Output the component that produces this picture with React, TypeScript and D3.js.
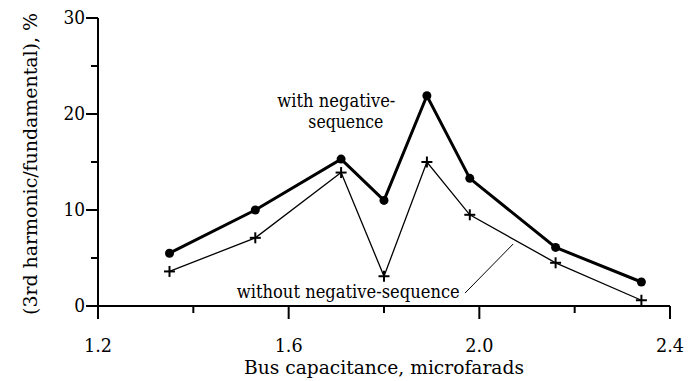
import * as d3 from 'd3';

// Bus capacitance (microfarads)
const capacitance = [1.35, 1.53, 1.71, 1.80, 1.89, 1.98, 2.16, 2.34];
// 3rd harmonic / fundamental, %
const withNegSeq = [5.5, 10.0, 15.3, 11.0, 21.9, 13.3, 6.1, 2.5];
const withoutNegSeq = [3.6, 7.1, 13.9, 3.1, 15.0, 9.5, 4.5, 0.6];

const xMajor = [1.2, 1.6, 2.0, 2.4];
const xMinor = [1.4, 1.8, 2.2];
const yMajor = [0, 10, 20, 30];
const yMinor = [5, 15, 25];

const W = 697;
const H = 381;
// Liberation Serif does not resolve here, DejaVu Serif does; squeeze it to Times widths
const font = 'DejaVu Serif';
const fit = 'spacingAndGlyphs';

export default function App() {
    const x = d3.scaleLinear().domain([1.2, 2.4]).range([98, 670]);
    const y = d3.scaleLinear().domain([0, 30]).range([306, 18]);

    const line = d3
        .line<number>()
        .x((_, i) => x(capacitance[i]))
        .y((d) => y(d));

    const x0 = x(1.2);
    const y0 = y(0);

    return (
        <svg width={W} height={H} style={{ position: 'absolute', left: 0, top: 0, background: '#fff' }}>
            {/* axes */}
            <g stroke="#000" strokeWidth={2} fill="none">
                <line x1={x0} x2={x0} y1={y(30)} y2={y0 + 13} />
                <line x1={x0 - 12} x2={x(2.4)} y1={y0} y2={y0} />
                {yMajor.map((v) => (
                    <line key={'ym' + v} x1={x0 - 12} x2={x0} y1={y(v)} y2={y(v)} />
                ))}
                {yMinor.map((v) => (
                    <line key={'yn' + v} x1={x0 - 7} x2={x0} y1={y(v)} y2={y(v)} />
                ))}
                {xMajor.map((v) => (
                    <line key={'xm' + v} x1={x(v)} x2={x(v)} y1={y0} y2={y0 + 13} />
                ))}
                {xMinor.map((v) => (
                    <line key={'xn' + v} x1={x(v)} x2={x(v)} y1={y0} y2={y0 + 7} />
                ))}
            </g>

            {/* tick labels */}
            <g fontFamily={font} fontSize={19} fill="#000">
                {yMajor.map((v) => (
                    <text
                        key={'yl' + v}
                        x={x0 - 13}
                        y={y(v) + 6}
                        textAnchor="end"
                        textLength={String(v).length * 10.8}
                        lengthAdjust={fit}
                    >
                        {v}
                    </text>
                ))}
                {xMajor.map((v) => (
                    <text
                        key={'xl' + v}
                        x={x(v)}
                        y={352}
                        textAnchor="middle"
                        textLength={28}
                        lengthAdjust={fit}
                    >
                        {v.toFixed(1)}
                    </text>
                ))}
            </g>

            {/* axis titles */}
            <text
                x={(x(1.2) + x(2.4)) / 2}
                y={374}
                textAnchor="middle"
                fontFamily={font}
                fontSize={19}
                textLength={280}
                lengthAdjust={fit}
            >
                Bus capacitance, microfarads
            </text>
            <text
                transform={`translate(37, ${(y(0) + y(30)) / 2 + 2}) rotate(-90)`}
                textAnchor="middle"
                fontFamily={font}
                fontSize={19}
                textLength={302}
                lengthAdjust={fit}
            >
                (3rd harmonic/fundamental), %
            </text>

            {/* series */}
            <path d={line(withoutNegSeq) ?? ''} fill="none" stroke="#000" strokeWidth={1.3} />
            <path d={line(withNegSeq) ?? ''} fill="none" stroke="#000" strokeWidth={3} />

            {withNegSeq.map((v, i) => (
                <circle key={'c' + i} cx={x(capacitance[i])} cy={y(v)} r={4.5} fill="#000" />
            ))}
            {withoutNegSeq.map((v, i) => {
                const cx = x(capacitance[i]);
                const cy = y(v);
                return (
                    <g key={'p' + i} stroke="#000" strokeWidth={2}>
                        <line x1={cx - 5.5} x2={cx + 5.5} y1={cy} y2={cy} />
                        <line x1={cx} x2={cx} y1={cy - 5.5} y2={cy + 5.5} />
                    </g>
                );
            })}

            {/* annotations */}
            <g fontFamily={font} fontSize={19}>
                <text x={x(1.70)} y={y(20.7)} textAnchor="middle" textLength={118} lengthAdjust={fit}>
                    with negative-
                </text>
                <text x={x(1.72)} y={y(18.5)} textAnchor="middle" textLength={75} lengthAdjust={fit}>
                    sequence
                </text>
                <text x={x(1.725)} y={y(0.83)} textAnchor="middle" textLength={223} lengthAdjust={fit}>
                    without negative-sequence
                </text>
            </g>
            <line
                x1={x(1.970)}
                y1={y(1.35)}
                x2={x(2.071)}
                y2={y(6.46)}
                stroke="#000"
                strokeWidth={1}
            />
        </svg>
    );
}
